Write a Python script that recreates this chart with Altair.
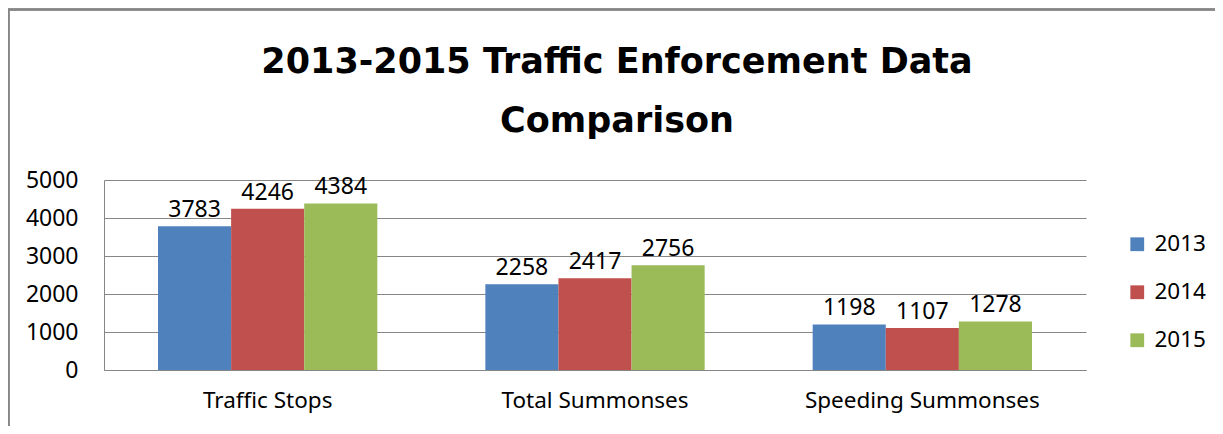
import altair as alt
import pandas as pd

categories = ["Traffic Stops", "Total Summonses", "Speeding Summonses"]
years = ["2013", "2014", "2015"]
values_2013 = [3783, 2258, 1198]
values_2014 = [4246, 2417, 1107]
values_2015 = [4384, 2756, 1278]
colors = ["#4F81BD", "#C0504D", "#9BBB59"]
title_lines = ["2013-2015 Traffic Enforcement Data", "Comparison"]

rows = []
for i, c in enumerate(categories):
    for y, vals in zip(years, [values_2013, values_2014, values_2015]):
        rows.append({"category": c, "year": y, "value": vals[i]})
df = pd.DataFrame(rows)

FONT = "Noto Sans"

x = alt.X("category:N", sort=categories, title=None,
          scale=alt.Scale(paddingInner=0.33, paddingOuter=0.165),
          axis=alt.Axis(labelAngle=0, labelFontSize=22.5, labelColor="#000000",
                        labelPadding=19, ticks=False, domainColor="#868686",
                        labelFont=FONT, grid=False, labelLimit=400))
xo = alt.XOffset("year:N", sort=years, scale=alt.Scale(paddingInner=0, paddingOuter=0))
y = alt.Y("value:Q", title=None,
          scale=alt.Scale(domain=[0, 5000], nice=False),
          axis=alt.Axis(values=[0, 1000, 2000, 3000, 4000, 5000], ticks=False,
                        format="d", grid=True,
                        labelFontSize=23, labelColor="#000000", labelPadding=26,
                        gridColor="#868686", domainColor="#868686", labelFont=FONT))

bars = alt.Chart(df).mark_bar().encode(
    x=x, xOffset=xo, y=y,
    color=alt.Color("year:N", sort=years,
                    scale=alt.Scale(domain=years, range=colors),
                    legend=alt.Legend(title=None, orient="none", legendX=1022, legendY=53,
                                      symbolType="square", symbolSize=190,
                                      symbolStrokeWidth=0, labelFontSize=22.5,
                                      labelFont=FONT, labelColor="#000000",
                                      rowPadding=25, padding=0, labelOffset=6)),
)

labels = alt.Chart(df).mark_text(baseline="alphabetic", dy=-9, fontSize=23, font=FONT,
                                 color="#000000").encode(
    x=x, xOffset=xo, y=y, text="value:Q",
)

frame = alt.Chart(df).mark_rect(fill=None, stroke="#868686", strokeWidth=1.5).encode(
    x=alt.value(-95.5), x2=alt.value(1400), y=alt.value(-170.5), y2=alt.value(600)
)

def title_line(text, ypos):
    return alt.Chart(pd.DataFrame({"line": [text]})).mark_text(
        fontSize=35, font="DejaVu Sans", fontWeight="bold", color="#000000",
        align="center", baseline="middle",
    ).encode(x=alt.value(513), y=alt.value(ypos), text="line:N")

title1 = title_line(title_lines[0], -118)
title2 = title_line(title_lines[1], -59)

chart = alt.layer(frame, bars, labels, title1, title2).properties(
    width=982, height=190,
    padding={"left": 96, "top": 172, "right": 129, "bottom": 56},
    autosize=alt.AutoSizeParams(type="none"),
).configure_view(stroke=None)

chart.save("out.html", embed_options={"renderer": "svg", "actions": False})
